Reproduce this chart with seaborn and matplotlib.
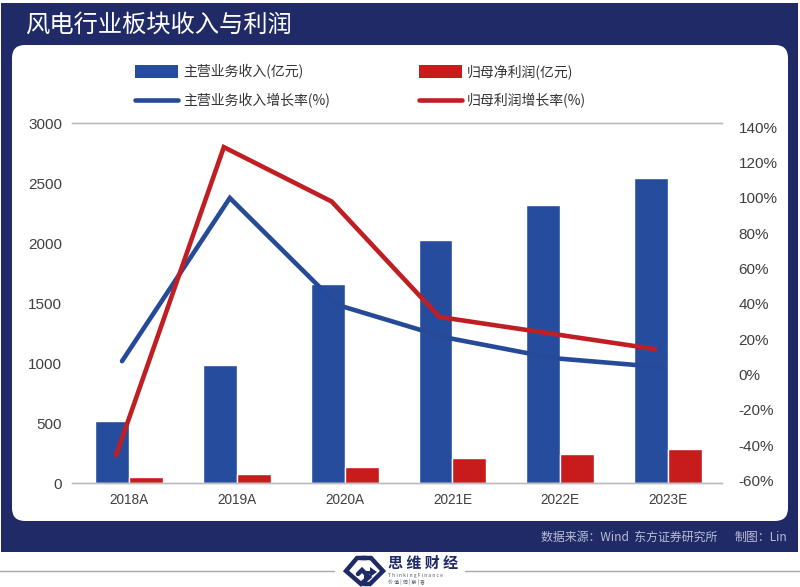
import numpy as np
import pandas as pd
import seaborn as sns
from matplotlib import pyplot as plt
from matplotlib.lines import Line2D
from matplotlib.patches import FancyBboxPatch, Patch, Rectangle, Polygon
from matplotlib.transforms import ScaledTranslation

years = ['2018A', '2019A', '2020A', '2021E', '2022E', '2023E']
revenue = [519, 986, 1661, 2028, 2319, 2544]
profit = [52, 78, 136, 211, 244, 286]
revenue_growth = [7.6, 100, 39.4, 21, 9.3, 4.2]
profit_growth = [-45.8, 128.8, 98, 32.6, 23.5, 14.4]
left_ticks = [0, 500, 1000, 1500, 2000, 2500, 3000]
right_ticks = [-60, -40, -20, 0, 20, 40, 60, 80, 100, 120, 140]

NAVY = '#1f2a66'
BLUE = '#264c9e'
RED = '#c81b1c'
LINE_BLUE = '#264a98'
LINE_RED = '#bf1e23'
W, H = 800, 587

sns.set_theme(style='white')
plt.rcParams['font.family'] = ['Noto Sans CJK SC', 'DejaVu Sans']

fig = plt.figure(figsize=(W / 100, H / 100), dpi=100, facecolor='white')

# backdrop in pixel coordinates
bg = fig.add_axes([0, 0, 1, 1], zorder=0)
bg.set_xlim(0, W)
bg.set_ylim(H, 0)
bg.axis('off')
bg.add_patch(Rectangle((1, 3), 797, 549, fc=NAVY, ec='none'))
bg.add_patch(FancyBboxPatch((24, 57), 752, 452, boxstyle='round,pad=12,rounding_size=13',
                            fc='white', ec='none'))
bg.text(25, 25, '风电行业板块收入与利润', color='white', fontsize=17.5, va='center')
bg.text(541, 537, '数据来源：Wind  东方证券研究所', color='#b9bed6', fontsize=8.6, va='center')
bg.text(787, 537, '制图：Lin', color='#b9bed6', fontsize=8.6, va='center', ha='right')

# bottom rule and logo
bg.plot([0, 334], [571, 571], color='#a8a8ae', lw=1)
bg.plot([465, 800], [571, 571], color='#a8a8ae', lw=1)
bg.plot([366, 357, 346, 361, 369, 362, 358], [558, 558, 571, 584, 577, 570, 574],
        color=NAVY, lw=3.2, solid_joinstyle='miter')
bg.plot([362, 371, 383, 370, 364], [558, 558, 571, 584, 584], color=NAVY, lw=3.2,
        solid_joinstyle='miter')
bg.plot([365, 365, 372], [581, 572, 572], color=NAVY, lw=2.2)
bg.add_patch(Polygon([[370, 567], [377, 572], [370, 577]], fc=NAVY, ec='none'))
bg.text(388, 563, '思 维 财 经', color=NAVY, fontsize=10.8, fontweight='bold', va='center')
bg.text(388, 575, 'T h i n k i n g F i n a n c e', color='#555a70', fontsize=3.6, va='center')
bg.text(388, 582, '价 值 | 洞 | 察 | 者', color='#555a70', fontsize=3.6, va='center')

# chart axes: 72..722 px wide, 123.3..483.3 px tall
ax = fig.add_axes([72 / W, 1 - 483.3 / H, 650 / W, 360 / H], zorder=1)
ax.patch.set_alpha(0)

df = pd.DataFrame({
    'year': years * 2,
    'value': revenue + profit,
    'series': ['主营业务收入(亿元)'] * 6 + ['归母净利润(亿元)'] * 6,
})
sns.barplot(data=df, x='year', y='value', hue='series', palette=[BLUE, RED], saturation=1,
            width=0.63, gap=0, legend=False, ax=ax)

ax2 = ax.twinx()
ax2.patch.set_alpha(0)
pos = np.arange(len(years))
sns.lineplot(x=pos, y=revenue_growth, color=LINE_BLUE, lw=3.3, sort=False, ax=ax2,
             solid_capstyle='round', solid_joinstyle='miter')
sns.lineplot(x=pos, y=profit_growth, color=LINE_RED, lw=3.3, sort=False, ax=ax2,
             solid_capstyle='round', solid_joinstyle='miter')
# the growth lines sit a little left of the category centres in the original
for line, dx in zip(ax2.get_lines(), [-7, -13]):
    line.set_transform(line.get_transform() + ScaledTranslation(dx / 100, 0, fig.dpi_scale_trans))

ax.set_xlim(-0.529, 5.50)
ax.set_ylim(0, 3000)
ax2.set_ylim(-61.6, 142.3)
ax.set_xlabel('')
ax.set_ylabel('')
ax2.set_ylabel('')
ax.set_yticks(left_ticks)
ax2.set_yticks(right_ticks)
ax2.set_yticklabels([f'{t}%' for t in right_ticks])

for a in (ax, ax2):
    for side in ('left', 'right'):
        a.spines[side].set_visible(False)
    for side in ('top', 'bottom'):
        a.spines[side].set_color('#bcbcc0')
        a.spines[side].set_linewidth(1)
    a.tick_params(length=0)
    for lab in a.get_yticklabels():
        lab.set_family('Liberation Sans')
        lab.set_color('#3f3f44')
        lab.set_fontsize(11)
for lab in ax.get_xticklabels():
    lab.set_family('Liberation Sans')
    lab.set_color('#3f3f44')
    lab.set_fontsize(9.8)
ax.tick_params(axis='y', pad=7)
ax.tick_params(axis='x', pad=7)
ax2.tick_params(axis='y', pad=12)

handles = [
    Patch(fc=BLUE, ec='none'),
    Line2D([], [], color=LINE_BLUE, lw=3.3, solid_capstyle='round'),
    Patch(fc=RED, ec='none'),
    Line2D([], [], color=LINE_RED, lw=3.3, solid_capstyle='round'),
]
labels = ['主营业务收入(亿元)', '主营业务收入增长率(%)', '归母净利润(亿元)', '归母利润增长率(%)']
leg = fig.legend(handles, labels, ncol=2, frameon=False, fontsize=10, handlelength=3.1,
                 handleheight=1.05, handletextpad=0.35, columnspacing=6.4, labelspacing=1.05,
                 labelcolor='#333338', loc='upper left', borderpad=0, borderaxespad=0,
                 bbox_to_anchor=(135 / W, 1 - 64 / H))

fig.savefig('out.png', dpi=100)
